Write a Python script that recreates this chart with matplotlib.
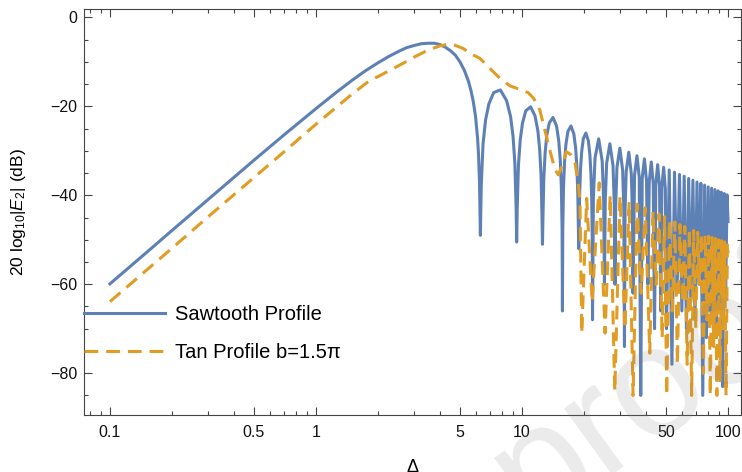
import matplotlib
matplotlib.use("Agg")
import matplotlib.pyplot as plt

plt.rcParams['font.family'] = ['Liberation Sans', 'DejaVu Sans']
plt.rcParams['mathtext.fontset'] = 'custom'
plt.rcParams['mathtext.rm'] = 'Liberation Sans'
plt.rcParams['mathtext.it'] = 'Liberation Sans:italic'

# sawtooth profile, 20 log10|E2| in dB against detuning
saw_delta = [0.1, 0.15, 0.2, 0.3, 0.5, 0.7, 1.0, 1.25, 1.5, 1.75, 2.0, 2.25, 2.5, 2.75,
             3.0, 3.25, 3.5, 3.75, 4.0, 4.25, 4.5, 4.75, 5.0, 5.25, 5.5, 5.65, 5.8,
             5.95, 6.08, 6.15, 6.22, 6.28,
             6.343, 6.47, 6.657, 6.91, 7.285, 7.85, 8.416, 8.80, 9.045, 9.23, 9.359, 9.42,
             9.48, 9.61, 9.80, 10.05, 10.43, 11.0, 11.56, 11.94, 12.19, 12.38, 12.51, 12.57,
             12.63, 12.76, 12.95, 13.19, 13.57, 14.14, 14.71, 15.08, 15.33, 15.52, 15.65, 15.71,
             15.77, 15.9, 16.09, 16.34, 16.71, 17.28, 17.85, 18.22, 18.47, 18.66, 18.79, 18.85,
             18.91, 19.04, 19.23, 19.48, 19.85, 20.42, 20.99, 21.36, 21.61, 21.8, 21.93, 21.99,
             22.21, 22.62, 23.56, 24.5, 24.91, 25.13,
             25.35, 25.76, 26.70, 27.65, 28.05, 28.27,
             28.49, 28.9, 29.85, 30.79, 31.2, 31.42,
             31.64, 32.04, 32.99, 33.93, 34.34, 34.56,
             35.19, 36.13, 37.07, 37.70,
             38.33, 39.27, 40.21, 40.84,
             41.47, 42.41, 43.35, 43.98,
             44.61, 45.55, 46.5, 47.12,
             47.75, 48.69, 49.64, 50.27,
             51.84, 53.41, 54.98, 56.55, 58.12, 59.69, 61.26, 62.83, 64.40, 65.97,
             67.54, 69.12, 70.69, 72.26, 73.83, 75.40, 76.97, 78.54, 80.11, 81.68,
             83.25, 84.82, 86.39, 87.96, 89.54, 91.11, 92.68, 94.25, 95.82, 97.39,
             98.96, 100.0]
saw_db = [-59.9, -52.9, -47.9, -40.9, -32.1, -26.4, -20.5, -16.9, -14.1, -11.9, -10.2, -8.8,
          -7.7, -6.8, -6.3, -5.9, -5.8, -5.8, -6.1, -6.7, -7.5, -8.5, -10.0, -11.9, -14.4,
          -16.4, -18.9, -22.3, -26.9, -30.7, -37.3, -49.0,
          -37.6, -28.4, -23.0, -19.4, -16.9, -16.3, -18.7, -22.3, -26.7, -32.7, -42.4, -50.5,
          -42.6, -33.2, -27.6, -23.8, -21.0, -20.1, -22.1, -25.5, -29.8, -35.8, -45.4, -51.0,
          -45.5, -36.1, -30.4, -26.5, -23.7, -22.5, -24.4, -27.8, -32.0, -38.0, -47.5, -66.0,
          -47.6, -38.2, -32.5, -28.5, -25.6, -24.4, -26.2, -29.5, -33.8, -39.7, -49.2, -52.0,
          -49.3, -39.8, -34.1, -30.2, -27.2, -26.0, -27.7, -31.0, -35.2, -41.1, -50.6, -68.0,
          -40.4, -31.6, -27.3, -32.3, -41.1, -60.0,
          -41.4, -32.7, -28.4, -33.3, -42.0, -60.0,
          -42.4, -33.7, -29.4, -34.3, -42.9, -74.0,
          -43.3, -34.6, -30.3, -35.2, -43.8, -62.0,
          -35.4, -31.1, -35.9, -85.0,
          -36.1, -31.8, -36.7, -60.0,
          -36.8, -32.5, -37.4, -70.0,
          -37.4, -33.1, -38.0, -66.0,
          -38.0, -33.7, -38.6, -70.0,
          -34.3, -78.0, -34.8, -62.0, -35.3, -66.0, -35.7, -70.0, -36.2, -64.0,
          -36.6, -68.0, -37.0, -60.0, -37.3, -85.0, -37.7, -72.0, -38.1, -66.0,
          -38.4, -70.0, -38.7, -72.0, -39.0, -66.0, -39.3, -83.0, -39.6, -62.0,
          -39.9, -45.9]

# tan profile with b = 1.5 pi
tan_delta = [0.1, 0.2, 0.3, 0.5, 0.7, 1.0, 1.5, 1.83, 2.0, 2.65, 3.0, 3.51, 4.0, 4.3,
             4.64, 5.19, 5.59, 6.25, 6.99, 7.83, 8.75, 9.78, 10.7, 11.4, 12.2, 12.9,
             13.9, 14.5, 15.0, 15.6, 16.4, 17.2, 18.1, 18.7, 19.1, 19.5,
             20.6, 21.9, 23.7, 25.3, 26.8, 28.2, 29.9, 31.6, 33.1, 34.6, 36.2, 37.9,
             39.6, 41.7, 43.2, 44.8, 46.3, 47.9, 49.2, 50.4, 52.0, 53.6, 55.2, 56.8,
             58.4, 60.2, 61.7, 63.3, 64.9, 66.6, 68.1, 69.7, 71.2, 72.8, 74.3, 75.9,
             77.4, 79.0, 80.5, 82.0, 83.6, 85.2, 86.7, 88.3, 89.9, 91.5, 93.1, 94.6,
             96.2, 97.8, 99.3, 100.0]
tan_db = [-63.9, -51.9, -44.8, -36.0, -30.2, -24.0, -17.2, -14.1, -13.3, -10.3, -8.9, -7.3,
          -6.4, -6.1, -6.1, -7.0, -8.1, -9.2, -11.5, -13.7, -15.4, -16.2, -16.9, -18.2,
          -20.8, -25.3, -31.3, -34.3, -35.4, -33.5, -30.2, -30.8, -32.8, -37.0, -41.0, -71.0,
          -40.7, -64.0, -37.2, -71.0, -40.0, -84.0, -40.2, -70.0, -41.5, -85.0, -42.0, -62.0,
          -42.8, -75.5, -43.6, -60.0, -44.2, -72.0, -44.8, -85.0, -45.5, -66.0, -46.0, -78.0,
          -46.6, -64.0, -47.0, -78.0, -47.5, -85.0, -47.9, -70.0, -48.3, -60.0, -48.6, -80.0,
          -49.0, -68.0, -49.2, -85.0, -49.5, -74.0, -49.7, -85.0, -50.0, -82.0, -50.2, -70.0,
          -50.5, -85.0, -50.7, -53.0]

x_major = [0.1, 0.5, 1, 5, 10, 50, 100]
x_major_labels = ['0.1', '0.5', '1', '5', '10', '50', '100']
x_minor = [0.08, 0.09, 0.2, 0.3, 0.4, 0.6, 0.7, 0.8, 0.9, 2, 3, 4, 6, 7, 8, 9,
           20, 30, 40, 60, 70, 80, 90]
y_major = [0, -20, -40, -60, -80]
y_minor = [-85, -75, -70, -65, -55, -50, -45, -35, -30, -25, -15, -10, -5]

blue = '#5e81b5'
orange = '#e19c24'

fig = plt.figure(figsize=(7.42, 4.72), dpi=100)
ax = fig.add_axes([84 / 742, 57 / 472, 657 / 742, 406 / 472])

l1, = ax.plot(saw_delta, saw_db, color=blue, lw=2.2, solid_joinstyle='round')
l2, = ax.plot(tan_delta, tan_db, color=orange, lw=2.2, linestyle=(0, (4.5, 2.6)))

ax.set_xscale('log')
ax.set_xlim(0.0748, 115.6)
ax.set_ylim(-89.4, 1.9)

ax.set_xticks(x_major, x_major_labels)
ax.set_xticks(x_minor, minor=True)
ax.set_xticklabels([], minor=True)
ax.set_yticks(y_major)
ax.set_yticks(y_minor, minor=True)

frame = '#444444'
for s in ax.spines.values():
    s.set_color(frame)
    s.set_linewidth(0.8)
ax.tick_params(which='both', direction='in', top=True, right=True, color=frame,
               labelsize=11.5, labelcolor='#111111', width=0.8)
ax.tick_params(which='major', length=5.5)
ax.tick_params(which='minor', length=3)
ax.tick_params(axis='x', pad=7.5)
ax.tick_params(axis='y', pad=5)

ax.set_ylabel('20 log$_{10}$|$E_2$| (dB)', fontsize=12.5)
ax.yaxis.set_label_coords(-0.085, 0.5)
ax.set_xlabel('Δ', fontsize=13)
ax.xaxis.set_label_coords(0.5, -0.108)

ax.legend([l1, l2], ['Sawtooth Profile', 'Tan Profile b=1.5π'], loc='center left',
          bbox_to_anchor=(0, 0.2000), frameon=False, borderpad=0, borderaxespad=0,
          handlelength=4.0, handletextpad=0.5, labelspacing=0.95, fontsize=14.5)

# faint diagonal watermark
fig.text(0.880, 0.178, 'proof', fontsize=112, rotation=36, rotation_mode='anchor',
         ha='center', va='center', color=(0.5, 0.5, 0.5), alpha=0.16, zorder=10)

fig.savefig('out.png', dpi=100)
